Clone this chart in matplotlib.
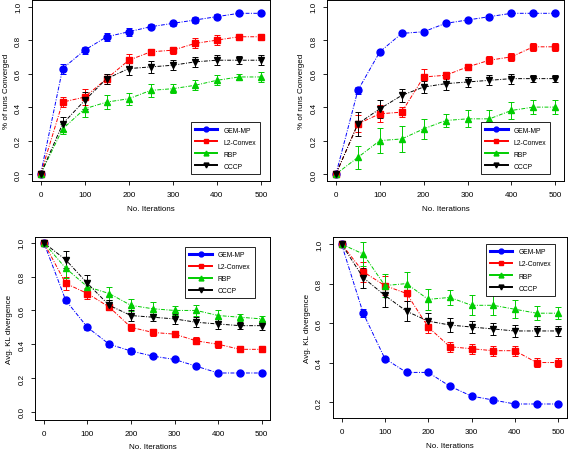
import matplotlib
matplotlib.use("Agg")
import matplotlib.pyplot as plt
from matplotlib.lines import Line2D

plt.rcParams['font.family'] = ['Liberation Sans', 'DejaVu Sans']

iters = [0, 50, 100, 150, 200, 250, 300, 350, 400, 450, 500]
methods = ['GEM-MP', 'L2-Convex', 'RBP', 'CCCP']
colors = ['#0000ff', '#ff0000', '#00cd00', '#000000']
markers = ['o', 's', '^', 'v']

# --- panel 1: convergence (top left) ---
conv1_gem = [0, 0.63, 0.74, 0.82, 0.85, 0.88, 0.90, 0.92, 0.94, 0.96, 0.96]
conv1_l2 = [0, 0.43, 0.46, 0.57, 0.68, 0.73, 0.74, 0.78, 0.80, 0.82, 0.82]
conv1_rbp = [0, 0.27, 0.39, 0.43, 0.45, 0.50, 0.51, 0.53, 0.56, 0.58, 0.58]
conv1_cccp = [0, 0.30, 0.44, 0.57, 0.63, 0.64, 0.65, 0.67, 0.68, 0.68, 0.68]
conv1_gem_err = [0, 0.03, 0.02, 0.025, 0.025, 0.015, 0.015, 0.015, 0.015, 0.01, 0.01]
conv1_l2_err = [0, 0.03, 0.05, 0.03, 0.04, 0.015, 0.02, 0.03, 0.03, 0.01, 0.015]
conv1_rbp_err = [0, 0.03, 0.05, 0.04, 0.035, 0.04, 0.025, 0.03, 0.03, 0.02, 0.03]
conv1_cccp_err = [0, 0.04, 0.05, 0.03, 0.04, 0.035, 0.03, 0.03, 0.03, 0.025, 0.03]

# --- panel 2: convergence (top right) ---
conv2_gem = [0, 0.50, 0.73, 0.84, 0.85, 0.90, 0.92, 0.94, 0.96, 0.96, 0.96]
conv2_l2 = [0, 0.30, 0.36, 0.37, 0.58, 0.59, 0.64, 0.68, 0.70, 0.76, 0.76]
conv2_rbp = [0, 0.10, 0.20, 0.21, 0.27, 0.32, 0.33, 0.33, 0.38, 0.40, 0.40]
conv2_cccp = [0, 0.30, 0.39, 0.47, 0.52, 0.54, 0.55, 0.56, 0.57, 0.57, 0.57]
conv2_gem_err = [0, 0.02, 0.01, 0.01, 0.01, 0.01, 0.01, 0.01, 0.01, 0.01, 0.01]
conv2_l2_err = [0, 0.05, 0.05, 0.03, 0.045, 0.02, 0.02, 0.025, 0.025, 0.025, 0.025]
conv2_rbp_err = [0, 0.07, 0.075, 0.08, 0.06, 0.04, 0.05, 0.05, 0.05, 0.04, 0.04]
conv2_cccp_err = [0, 0.07, 0.055, 0.04, 0.035, 0.035, 0.03, 0.03, 0.03, 0.02, 0.02]

# --- panel 3: KL divergence (bottom left) ---
kl1_gem = [1.0, 0.66, 0.50, 0.40, 0.36, 0.33, 0.31, 0.27, 0.23, 0.23, 0.23]
kl1_l2 = [1.0, 0.76, 0.70, 0.62, 0.50, 0.47, 0.46, 0.42, 0.40, 0.37, 0.37]
kl1_rbp = [1.0, 0.85, 0.74, 0.70, 0.63, 0.61, 0.60, 0.60, 0.57, 0.56, 0.55]
kl1_cccp = [1.0, 0.90, 0.76, 0.63, 0.57, 0.56, 0.55, 0.53, 0.52, 0.51, 0.51]
kl1_gem_err = [0, 0.015, 0.015, 0.015, 0.015, 0.01, 0.01, 0.01, 0.01, 0.01, 0.01]
kl1_l2_err = [0, 0.04, 0.03, 0.02, 0.02, 0.02, 0.02, 0.02, 0.02, 0.01, 0.01]
kl1_rbp_err = [0, 0.06, 0.04, 0.04, 0.035, 0.04, 0.025, 0.03, 0.03, 0.02, 0.02]
kl1_cccp_err = [0, 0.05, 0.05, 0.03, 0.035, 0.02, 0.03, 0.03, 0.03, 0.02, 0.025]

# --- panel 4: KL divergence (bottom right) ---
kl2_gem = [1.0, 0.65, 0.42, 0.35, 0.35, 0.28, 0.23, 0.21, 0.19, 0.19, 0.19]
kl2_l2 = [1.0, 0.86, 0.79, 0.75, 0.58, 0.48, 0.47, 0.46, 0.46, 0.40, 0.40]
kl2_rbp = [1.0, 0.95, 0.79, 0.80, 0.72, 0.73, 0.69, 0.69, 0.67, 0.65, 0.65]
kl2_cccp = [1.0, 0.83, 0.74, 0.66, 0.61, 0.59, 0.58, 0.57, 0.56, 0.56, 0.56]
kl2_gem_err = [0, 0.02, 0.01, 0.01, 0.01, 0.01, 0.01, 0.01, 0.01, 0.01, 0.01]
kl2_l2_err = [0, 0.05, 0.05, 0.04, 0.03, 0.025, 0.025, 0.025, 0.025, 0.025, 0.025]
kl2_rbp_err = [0, 0.06, 0.06, 0.06, 0.055, 0.04, 0.05, 0.05, 0.045, 0.035, 0.03]
kl2_cccp_err = [0, 0.05, 0.06, 0.05, 0.04, 0.035, 0.03, 0.03, 0.03, 0.025, 0.025]

FS = 5.8


def draw_panel(ax, series, errors, ylabel, ylim, yticks, leg_anchor):
    for vals, errs, c, m in zip(series, errors, colors, markers):
        ax.errorbar(iters, vals, yerr=errs, color=c, ecolor=c, marker=m,
                    markersize=5, linestyle=(0, (4, 1.5, 1, 1.5)), linewidth=0.7,
                    elinewidth=0.7, capsize=2.5, capthick=0.7)
    ax.set_xlim(-20, 520)
    ax.set_ylim(*ylim)
    ax.set_xticks([0, 100, 200, 300, 400, 500])
    ax.set_yticks(yticks)
    ax.set_yticklabels([f"{v:.1f}" for v in yticks], rotation=90, va='center')
    ax.tick_params(labelsize=FS, length=3, width=0.6, direction='out', pad=4)
    ax.set_xlabel('No. Iterations', fontsize=FS, labelpad=5)
    ax.set_ylabel(ylabel, fontsize=FS, labelpad=4)
    for s in ax.spines.values():
        s.set_linewidth(0.7)
    handles = [Line2D([0], [0], color=c, marker=m, markersize=3.5,
                      linewidth=2.2 if i == 0 else 1.4)
               for i, (c, m) in enumerate(zip(colors, markers))]
    leg = ax.legend(handles, methods, loc='upper left', bbox_to_anchor=leg_anchor,
                    fontsize=4.9, frameon=True, fancybox=False, framealpha=1,
                    edgecolor='black', handlelength=3.3, handletextpad=0.9,
                    labelspacing=0.75, borderpad=0.6, borderaxespad=0)
    leg.get_frame().set_linewidth(0.6)


fig = plt.figure(figsize=(5.68, 4.52), dpi=100)

ax1 = fig.add_axes([0.056, 0.597, 0.419, 0.401])
draw_panel(ax1, [conv1_gem, conv1_l2, conv1_rbp, conv1_cccp],
           [conv1_gem_err, conv1_l2_err, conv1_rbp_err, conv1_cccp_err],
           '% of runs Converged', (-0.042, 1.04), [0.0, 0.2, 0.4, 0.6, 0.8, 1.0],
           (0.668, 0.324))

ax2 = fig.add_axes([0.576, 0.597, 0.417, 0.401])
draw_panel(ax2, [conv2_gem, conv2_l2, conv2_rbp, conv2_cccp],
           [conv2_gem_err, conv2_l2_err, conv2_rbp_err, conv2_cccp_err],
           '% of runs Converged', (-0.042, 1.04), [0.0, 0.2, 0.4, 0.6, 0.8, 1.0],
           (0.65, 0.324))

ax3 = fig.add_axes([0.062, 0.069, 0.414, 0.405])
draw_panel(ax3, [kl1_gem, kl1_l2, kl1_rbp, kl1_cccp],
           [kl1_gem_err, kl1_l2_err, kl1_rbp_err, kl1_cccp_err],
           'Avg. KL divergence', (-0.047, 1.036), [0.0, 0.2, 0.4, 0.6, 0.8, 1.0],
           (0.638, 0.945))

ax4 = fig.add_axes([0.586, 0.073, 0.412, 0.400])
draw_panel(ax4, [kl2_gem, kl2_l2, kl2_rbp, kl2_cccp],
           [kl2_gem_err, kl2_l2_err, kl2_rbp_err, kl2_cccp_err],
           'Avg. KL divergence', (0.119, 1.035), [0.2, 0.4, 0.6, 0.8, 1.0],
           (0.654, 0.961))

fig.savefig('out.png', dpi=100)
